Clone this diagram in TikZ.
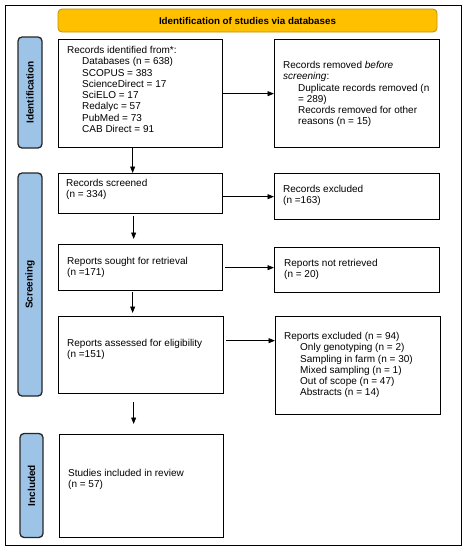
\documentclass[tikz,border=0pt]{standalone}
\usepackage{fontspec}
\setmainfont{Liberation Sans}
\usetikzlibrary{arrows.meta}
\definecolor{bannerfill}{HTML}{FFC000}
\definecolor{bannerdraw}{HTML}{BF9000}
\definecolor{tabblue}{HTML}{9DC3E6}
\begin{document}
\begin{tikzpicture}[x=1pt,y=-1pt,
  box/.style={draw=black, line width=1.3pt, inner sep=0pt, anchor=north west},
  txt/.style={font=\fontsize{10}{11.3}\selectfont, align=left, anchor=north west, inner sep=0pt},
  tab/.style={draw=black!85, fill=tabblue, rounded corners=4pt, line width=1.3pt, rotate=90, font=\bfseries\fontsize{10}{11}\selectfont, inner sep=0pt},
  arr/.style={-{Triangle[length=6.5pt,width=5pt]}, line width=0.7pt}]
\useasboundingbox (0,0) rectangle (467,550);
\node[draw=black, line width=1.2pt, minimum width=456.5pt, minimum height=540pt, anchor=north west, inner sep=0pt] (frame) at (4.5,4.5) {};
\node[draw=bannerdraw, fill=bannerfill, rounded corners=4pt, line width=0.8pt, minimum width=379pt, minimum height=23pt, inner sep=0pt, font=\bfseries\fontsize{9.8}{11}\selectfont] (banner) at (247.5,20.5) {Identification of studies via databases};
% side tabs
\node[tab, minimum width=111pt, minimum height=24pt] (t1) at (30,92.5) {Identification};
\node[tab, minimum width=223pt, minimum height=24pt] (t2) at (30,284.5) {Screening};
\node[tab, minimum width=104pt, minimum height=23pt] (t3) at (31.5,485.5) {Included};
% boxes
\node[box, minimum width=164pt, minimum height=108pt] (b1) at (58,39) {};
\node[box, minimum width=165pt, minimum height=108pt] (r1) at (274,39) {};
\node[box, minimum width=164pt, minimum height=40pt] (b2) at (58,173) {};
\node[box, minimum width=165pt, minimum height=46pt] (r2) at (274,173) {};
\node[box, minimum width=164pt, minimum height=46pt] (b3) at (58,244) {};
\node[box, minimum width=165pt, minimum height=45pt] (r3) at (274,247) {};
\node[box, minimum width=165pt, minimum height=77pt] (b4) at (58,316) {};
\node[box, minimum width=165pt, minimum height=98pt] (r4) at (275,316) {};
\node[box, minimum width=164pt, minimum height=103pt] (b5) at (59,434) {};
% texts
\node[txt] (b1t) at (67,46) {Records identified from*:\\
\hspace*{15pt}Databases (n = 638)\\
\hspace*{15pt}SCOPUS = 383\\
\hspace*{15pt}ScienceDirect = 17\\
\hspace*{15pt}SciELO = 17\\
\hspace*{15pt}Redalyc = 57\\
\hspace*{15pt}PubMed = 73\\
\hspace*{15pt}CAB Direct = 91};
\node[txt] (r1t) at (283,61) {Records removed \textit{before}\\
\textit{screening}:\\
\hspace*{15pt}Duplicate records removed (n\\
\hspace*{15pt}= 289)\\
\hspace*{15pt}Records removed for other\\
\hspace*{15pt}reasons (n = 15)};
\node[txt] (b2t) at (66,179) {Records screened\\(n = 334)};
\node[txt] (r2t) at (283,185) {Records excluded\\(n =163)};
\node[txt] (b3t) at (67,257) {Reports sought for retrieval\\(n =171)};
\node[txt] (r3t) at (284,259) {Reports not retrieved\\(n = 20)};
\node[txt] (b4t) at (67,339) {Reports assessed for eligibility\\(n =151)};
\node[txt] (r4t) at (284,332) {Reports excluded (n = 94)\\
\hspace*{16pt}Only genotyping (n = 2)\\
\hspace*{16pt}Sampling in farm (n = 30)\\
\hspace*{16pt}Mixed sampling (n = 1)\\
\hspace*{16pt}Out of scope (n = 47)\\
\hspace*{16pt}Abstracts (n = 14)};
\node[txt] (b5t) at (68,469) {Studies included in review\\(n = 57)};
% horizontal arrows
\draw[arr] (b1.east) -- (b1.east -| r1.west);
\draw[arr] (b2.east |- r2.west) -- (r2.west);
\draw[arr, shorten <=2pt] (b3.east) -- (b3.east -| r3.west);
\draw[arr, shorten <=2pt] ([yshift=14.5pt]b4.east) -- ([yshift=14.5pt]b4.east -| r4.west);
% vertical arrows
\draw[arr] ([xshift=-8pt]b1.south) -- ([xshift=-8pt]b1.south |- b2.north);
\draw[arr, shorten <=2pt, shorten >=5pt] ([xshift=-7pt]b2.south) -- ([xshift=-7pt]b2.south |- b3.north);
\draw[arr, shorten <=1pt, shorten >=3pt] ([xshift=-8pt]b3.south) -- ([xshift=-8pt]b3.south |- b4.north);
\draw[arr, shorten <=8pt, shorten >=10pt] ([xshift=-7.5pt]b4.south) -- ([xshift=-7.5pt]b4.south |- b5.north);
\end{tikzpicture}
\end{document}
